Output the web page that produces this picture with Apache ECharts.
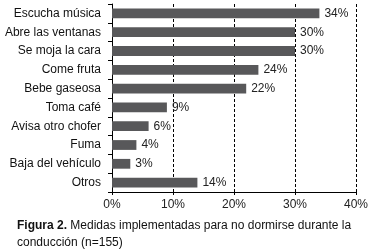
<!DOCTYPE html>
<html>
<head>
<meta charset="utf-8">
<script src="https://cdn.jsdelivr.net/npm/echarts@6/dist/echarts.min.js"></script>
<style>
  html, body { margin: 0; padding: 0; background: #fff; }
  #chart { width: 374px; height: 252px; }
</style>
</head>
<body>
<div id="chart"></div>
<script>
const categories = [
  'Escucha música', 'Abre las ventanas', 'Se moja la cara', 'Come fruta', 'Bebe gaseosa',
  'Toma café', 'Avisa otro chofer', 'Fuma', 'Baja del vehículo', 'Otros'
];
const values = [34, 30, 30, 24, 22, 9, 6, 4, 3, 14];
const xTicks = [0, 10, 20, 30, 40];

const font = 'Liberation Sans, Arial, sans-serif';
const chart = echarts.init(document.getElementById('chart'));

chart.setOption({
  animation: false,
  textStyle: { fontFamily: font },
  grid: { left: 112, right: 18, top: 4, bottom: 60 },
  title: {
    left: 17,
    top: 217,
    padding: 0,
    text: '{b|Figura 2.} Medidas implementadas para no dormirse durante la\nconducción (n=155)',
    textStyle: {
      fontFamily: font,
      fontSize: 12,
      fontWeight: 'normal',
      color: '#111',
      lineHeight: 17,
      rich: {
        b: { fontFamily: font, fontSize: 12, fontWeight: 'bold', color: '#111', lineHeight: 17 }
      }
    }
  },
  xAxis: {
    type: 'value',
    min: xTicks[0],
    max: xTicks[xTicks.length - 1],
    interval: 10,
    axisLine: { show: true, lineStyle: { color: '#000', width: 1 } },
    axisTick: { show: true, length: 3, lineStyle: { color: '#000' } },
    axisLabel: {
      formatter: '{value}%',
      color: '#222',
      fontSize: 12,
      margin: 7
    },
    splitLine: {
      show: true,
      lineStyle: { color: '#000', type: [3, 2], width: 1 }
    }
  },
  yAxis: {
    type: 'category',
    data: categories,
    inverse: true,
    axisLine: { show: true, lineStyle: { color: '#000', width: 1 } },
    axisTick: { show: true, length: 4, lineStyle: { color: '#000' } },
    axisLabel: { color: '#111', fontSize: 12, margin: 11 }
  },
  series: [{
    type: 'bar',
    data: values,
    barWidth: '52%',
    itemStyle: { color: '#58585a' },
    label: {
      show: true,
      position: 'right',
      formatter: '{c}%',
      color: '#222',
      fontSize: 12,
      distance: 5
    }
  }]
});
</script>
</body>
</html>
